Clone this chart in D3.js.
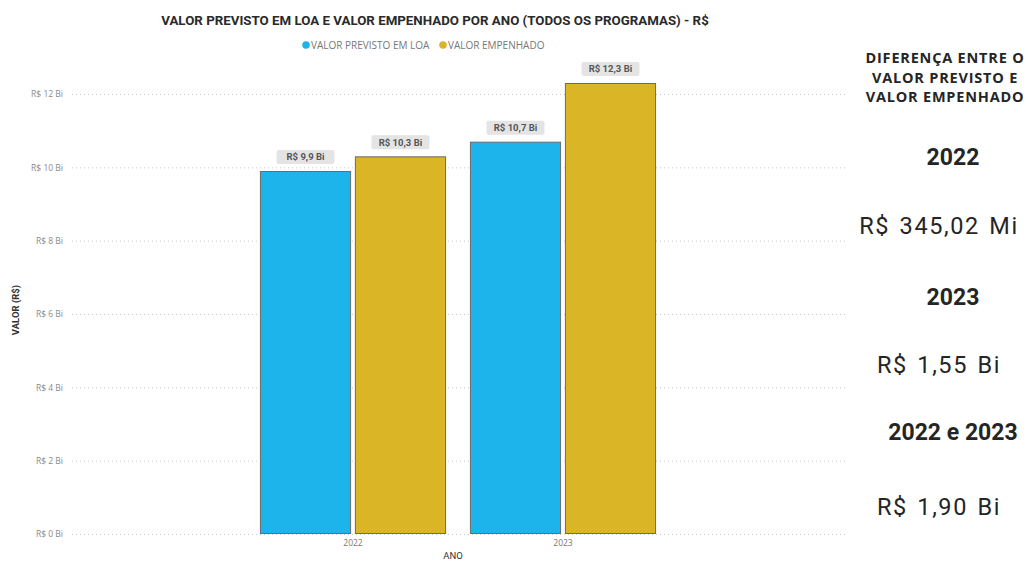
<!DOCTYPE html>
<html>
<head>
<meta charset="utf-8">
<script src="https://cdn.jsdelivr.net/npm/d3@7"></script>
<style>
  html, body { margin: 0; padding: 0; background: #fff; }
  svg { display: block; }
</style>
</head>
<body>
<svg id="chart" width="1030" height="561"></svg>
<script>
// Chart data
const years = ["2022", "2023"];
const seriesNames = ["VALOR PREVISTO EM LOA", "VALOR EMPENHADO"];
const previsto = [9.9, 10.7];     // R$ bilhões
const empenhado = [10.3, 12.3];   // R$ bilhões
const yTicks = [0, 2, 4, 6, 8, 10, 12];
const seriesColors = ["#1DB4EC", "#DAB626"];

// Side panel text
const panelTitle = ["DIFERENÇA ENTRE O", "VALOR PREVISTO E", "VALOR EMPENHADO"];
const panelYears = ["2022", "2023", "2022 e 2023"];
const panelValues = ["R$ 345,02 Mi", "R$ 1,55 Bi", "R$ 1,90 Bi"];

const fontMain = "Roboto, 'DejaVu Sans', sans-serif";
const fontUi = "'Open Sans', 'Noto Sans', sans-serif";
const svg = d3.select("#chart");

const rows = years.map((y, i) => ({ year: y, values: [previsto[i], empenhado[i]] }));

const y = d3.scaleLinear().domain([0, 12]).range([534, 94]);
const x = d3.scaleBand().domain(years).range([248, 668]).paddingInner(0.1).paddingOuter(0.05);
const xs = d3.scaleBand().domain(d3.range(seriesNames.length)).range([0, x.bandwidth()])
  .paddingInner(0.04).paddingOuter(0.015);

const fmt = v => "R$ " + d3.format(".1f")(v).replace(".", ",") + " Bi";

// Gridlines + y tick labels
const yAxis = d3.axisLeft(y).tickValues(yTicks).tickSize(0).tickPadding(0)
  .tickFormat(d => "R$ " + d + " Bi");
const gy = svg.append("g").attr("transform", "translate(63,0)").call(yAxis);
gy.select(".domain").remove();
gy.selectAll("text").attr("font-family", fontUi).attr("font-size", 8.5).attr("fill", "#8a8a8a");

svg.append("g").selectAll("line").data(yTicks).join("line")
  .attr("x1", 72).attr("x2", 848)
  .attr("y1", d => y(d) + 0.5).attr("y2", d => y(d) + 0.5)
  .attr("stroke", "#c8c8c8").attr("stroke-width", 1).attr("stroke-dasharray", "1,3");

// Bars
const groups = svg.append("g").selectAll("g").data(rows).join("g")
  .attr("transform", d => `translate(${x(d.year)},0)`);

groups.selectAll("rect").data(d => d.values.map((v, i) => ({ v, i }))).join("rect")
  .attr("x", d => xs(d.i) + 0.5)
  .attr("y", d => y(d.v) + 0.5)
  .attr("width", xs.bandwidth() - 1)
  .attr("height", d => y(0) - y(d.v) - 1)
  .attr("fill", d => seriesColors[d.i])
  .attr("stroke", "#6b6b6b").attr("stroke-width", 1);

// Data labels
const labels = groups.selectAll("g.lbl").data(d => d.values.map((v, i) => ({ v, i }))).join("g")
  .attr("class", "lbl")
  .attr("transform", d => `translate(${xs(d.i) + xs.bandwidth() / 2},${y(d.v) - 14})`);
labels.append("rect")
  .attr("x", -29).attr("y", -7).attr("width", 58).attr("height", 14)
  .attr("rx", 2).attr("fill", "#e4e4e4");
labels.append("text")
  .attr("text-anchor", "middle").attr("dy", "0.35em")
  .attr("font-family", fontMain).attr("font-size", 9.5).attr("font-weight", "bold")
  .attr("fill", "#555").text(d => fmt(d.v));

// X axis labels
const xAxis = d3.axisBottom(x).tickSize(0).tickPadding(0);
const gx = svg.append("g").attr("transform", "translate(0,540)").call(xAxis);
gx.select(".domain").remove();
gx.selectAll("text").attr("font-family", fontUi).attr("font-size", 8.5).attr("fill", "#777");

svg.append("text").attr("x", 453).attr("y", 559).attr("text-anchor", "middle")
  .attr("font-family", fontMain).attr("font-size", 9.5).attr("fill", "#333").text("ANO");

svg.append("text").attr("transform", "translate(19,310) rotate(-90)").attr("text-anchor", "middle")
  .attr("font-family", fontMain).attr("font-size", 9.5).attr("font-weight", "bold").attr("fill", "#333")
  .text("VALOR (R$)");

// Title
svg.append("text").attr("x", 435).attr("y", 25).attr("text-anchor", "middle")
  .attr("font-family", fontMain).attr("font-size", 13.3).attr("font-weight", "bold").attr("fill", "#2a2a2a")
  .text("VALOR PREVISTO EM LOA E VALOR EMPENHADO POR ANO (TODOS OS PROGRAMAS) - R$");

// Legend
const legendX = [306, 443];
const lg = svg.append("g").selectAll("g").data(seriesNames).join("g")
  .attr("transform", (d, i) => `translate(${legendX[i]},45)`);
lg.append("circle").attr("r", 3.8).attr("fill", (d, i) => seriesColors[i]);
lg.append("text").attr("x", 5).attr("dy", "0.35em")
  .attr("font-family", fontUi).attr("font-size", 10).attr("fill", "#777").text(d => d);

// Side panel (cards)
svg.append("g").selectAll("text").data(panelTitle).join("text")
  .attr("x", 945).attr("y", (d, i) => 63 + i * 19.5).attr("text-anchor", "middle")
  .attr("font-family", fontUi).attr("font-size", 14.5).attr("letter-spacing", 0.8)
  .attr("font-weight", "bold").attr("fill", "#252525")
  .text(d => d);

const yearY = [165, 305, 440];
const valY = [234, 373, 515];
svg.append("g").selectAll("text").data(panelYears).join("text")
  .attr("x", 953).attr("y", (d, i) => yearY[i]).attr("text-anchor", "middle")
  .attr("font-family", fontMain).attr("font-size", 23).attr("font-weight", "bold").attr("fill", "#252525")
  .text(d => d);
svg.append("g").selectAll("text").data(panelValues).join("text")
  .attr("x", 939).attr("y", (d, i) => valY[i]).attr("text-anchor", "middle")
  .attr("font-family", fontMain).attr("font-size", 23.5).attr("letter-spacing", 1.6)
  .attr("word-spacing", 2).attr("fill", "#252525")
  .text(d => d);
</script>
</body>
</html>
